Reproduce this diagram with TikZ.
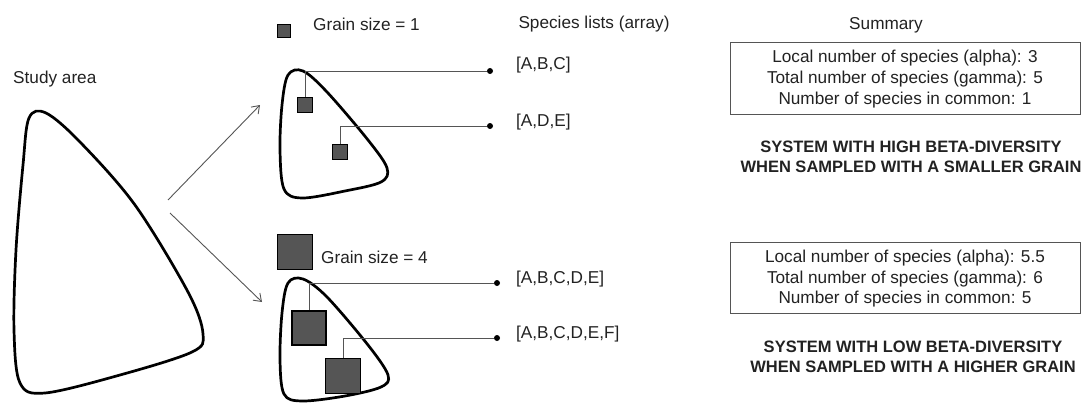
\documentclass[tikz,border=0pt]{standalone}
\usepackage{fontspec}
\setmainfont{Liberation Sans}
\usetikzlibrary{arrows.meta}
\definecolor{ink}{HTML}{222222}
\definecolor{grainfill}{HTML}{555555}
\definecolor{wire}{HTML}{555555}
\tikzset{
  txt/.style={inner sep=0pt, text=ink, font=\fontsize{17.2}{20}\selectfont},
  boldtxt/.style={inner sep=0pt, text=ink, align=center, font=\fontsize{16.5}{19.5}\selectfont\bfseries},
  area/.style={line width=2.7pt, black},
  grain/.style={draw=black, line width=1.8pt, fill=grainfill, inner sep=0pt, minimum size=#1},
  dotend/.style={circle, fill=black, inner sep=0pt, minimum size=6pt},
  wireline/.style={wire, line width=0.9pt},
  summarybox/.style={draw=wire, line width=1pt, minimum width=350pt, minimum height=71pt, inner sep=0pt},
  sumline/.style={txt},
  branch/.style={wire, line width=0.9pt, -{Straight Barb[length=7pt,width=10pt]}}
}
\begin{document}
\begin{tikzpicture}[x=1pt,y=-1pt]
\useasboundingbox (0,0) rectangle (1089,404);

% headings
\node[txt, anchor=west] (study) at (13,79) {Study area};
\node[txt] (lists) at (594,24) {Species lists (array)};
\node[txt] (summary) at (886,25) {Summary};

% study area outline
\draw[area] plot[smooth cycle, tension=0.55] coordinates {
  (29,118) (23,165) (16,250) (14,330) (20,383) (45,393) (120,375)
  (192,352) (203,334) (188,292) (135,205) (80,142) (46,113)};

% branching arrows
\coordinate (fork1) at (168,200);
\coordinate (fork2) at (170,213);
\coordinate (tipup) at (260,105);
\coordinate (tipdown) at (262,302);
\draw[branch] (fork1) -- (tipup);
\draw[branch] (fork2) -- (tipdown);

% ---- small grain ----
\node[grain=13pt] (leg1) at (284,31) {};
\node[txt, anchor=west] (glab1) at (313,24) {Grain size = 1};
\draw[area] plot[smooth cycle, tension=0.55] coordinates {
  (288,75) (282,105) (280,150) (284,189) (302,198) (345,191) (381,182)
  (387,168) (368,140) (327,92) (303,71)};
\node[grain=15pt] (sa) at (305,105) {};
\node[grain=15pt] (sb) at (340,152) {};
\node[dotend] (da) at (490,71) {};
\node[dotend] (db) at (490,126) {};
\draw[wireline] (sa.north) |- (da);
\draw[wireline] (sb.north) |- (db);
\node[txt, anchor=west] (la) at (516,65) {[A,B,C]};
\node[txt, anchor=west] (lb) at (516,122) {[A,D,E]};

% ---- large grain ----
\node[grain=35pt] (leg4) at (295,252) {};
\node[txt, anchor=west] (glab4) at (321,257) {Grain size = 4};
\draw[area] plot[smooth cycle, tension=0.55] coordinates {
  (288,283) (282,313) (280,360) (284,394) (302,401) (345,396) (381,387)
  (388,375) (368,345) (327,297) (303,279)};
\node[grain=34pt] (ba) at (309,328) {};
\node[grain=35pt] (bb) at (343,376) {};
\node[dotend] (dc) at (497,283) {};
\node[dotend] (dd) at (497,338) {};
\draw[wireline] (ba.north) |- (dc);
\draw[wireline] (bb.north) |- (dd);
\node[txt, anchor=west] (lc) at (516,279) {[A,B,C,D,E]};
\node[txt, anchor=west] (ld) at (516,334) {[A,B,C,D,E,F]};

% ---- summaries ----
\node[summarybox] (box1) at (905,78.5) {};
\node[sumline] (s11) at (905,58) {Local number of species (alpha): 3};
\node[sumline] (s12) at (905,79) {Total number of species (gamma): 5};
\node[sumline] (s13) at (905,100) {Number of species in common: 1};
\node[boldtxt] (res1) at (911,157) {SYSTEM WITH HIGH BETA-DIVERSITY\\WHEN SAMPLED WITH A SMALLER GRAIN};

\node[summarybox] (box2) at (905,278) {};
\node[sumline] (s21) at (905,258) {Local number of species (alpha): 5.5};
\node[sumline] (s22) at (905,279) {Total number of species (gamma): 6};
\node[sumline] (s23) at (905,299) {Number of species in common: 5};
\node[boldtxt] (res2) at (913,357) {SYSTEM WITH LOW BETA-DIVERSITY\\WHEN SAMPLED WITH A HIGHER GRAIN};
\end{tikzpicture}
\end{document}
